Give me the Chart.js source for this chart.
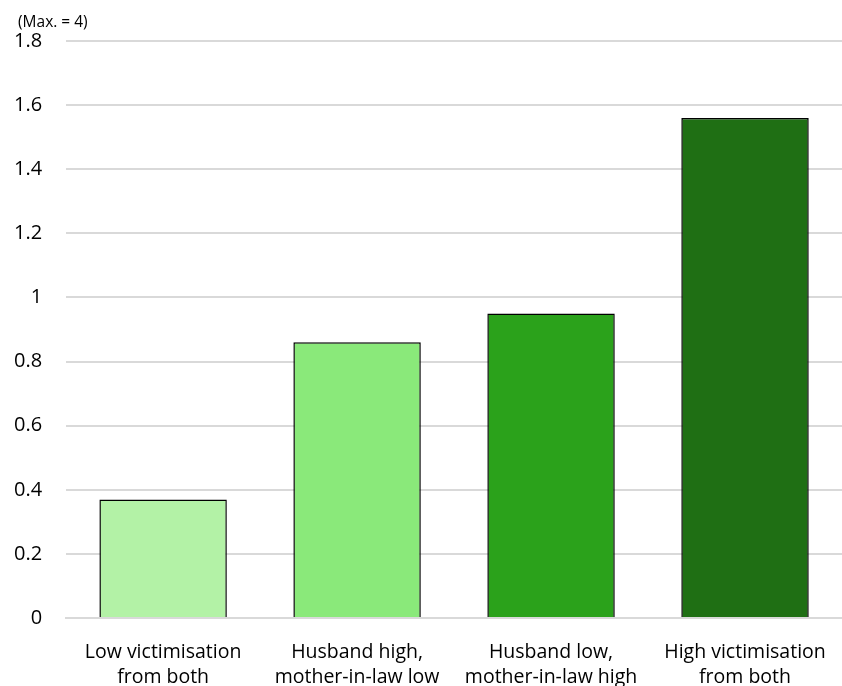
<!DOCTYPE html>
<html>
<head>
<meta charset="utf-8">
<script src="https://cdn.jsdelivr.net/npm/chart.js@4/dist/chart.umd.min.js"></script>
<style>
  html, body { margin: 0; padding: 0; background: #fff; }
  #wrap { width: 842px; height: 686px; position: relative; }
</style>
</head>
<body>
<div id="wrap"><canvas id="c"></canvas></div>
<script>
const categories = [
  ["Low victimisation", "from both"],
  ["Husband high,", "mother-in-law low"],
  ["Husband low,", "mother-in-law high"],
  ["High victimisation", "from both"]
];
const values = [0.37, 0.86, 0.95, 1.56];
const barColors = ["#b3f2a6", "#8ae97a", "#2ba21b", "#1f6f14"];
const unitNote = "(Max. = 4)";

const FONT = "'Open Sans', Lato, sans-serif";

const noteText = {
  id: "noteText",
  afterDraw(chart) {
    const ctx = chart.ctx;
    ctx.save();
    ctx.font = "15.5px " + FONT;
    ctx.fillStyle = "#000";
    ctx.textBaseline = "middle";
    ctx.textAlign = "left";
    ctx.fillText(unitNote, 18, 23);
    ctx.restore();
  }
};

new Chart(document.getElementById("c"), {
  type: "bar",
  data: {
    labels: categories,
    datasets: [{
      data: values,
      backgroundColor: barColors,
      borderColor: "#000",
      borderWidth: 1.5,
      borderSkipped: "bottom",
      barPercentage: 0.657,
      categoryPercentage: 1.0
    }]
  },
  options: {
    responsive: true,
    maintainAspectRatio: false,
    animation: false,
    layout: { padding: { top: 41, right: -13, left: -10, bottom: -26 } },
    plugins: { legend: { display: false }, tooltip: { enabled: false } },
    scales: {
      x: {
        grid: { display: false, drawTicks: false },
        border: { display: true, color: "#d9d9d9", width: 2 },
        afterFit: (scale) => { scale.paddingLeft = 0; scale.paddingRight = 0; },
        ticks: {
          color: "#000",
          font: { family: FONT, size: 19.5, lineHeight: 1.28 },
          padding: 22,
          maxRotation: 0,
          autoSkip: false
        }
      },
      y: {
        min: 0,
        max: 1.8,
        ticks: {
          stepSize: 0.2,
          color: "#000",
          font: { family: FONT, size: 20 },
          padding: 24,
          callback: (v) => String(Math.round(v * 10) / 10)
        },
        grid: { color: "#d9d9d9", lineWidth: 2, drawTicks: false },
        border: { display: false }
      }
    }
  },
  plugins: [noteText]
});
</script>
</body>
</html>
